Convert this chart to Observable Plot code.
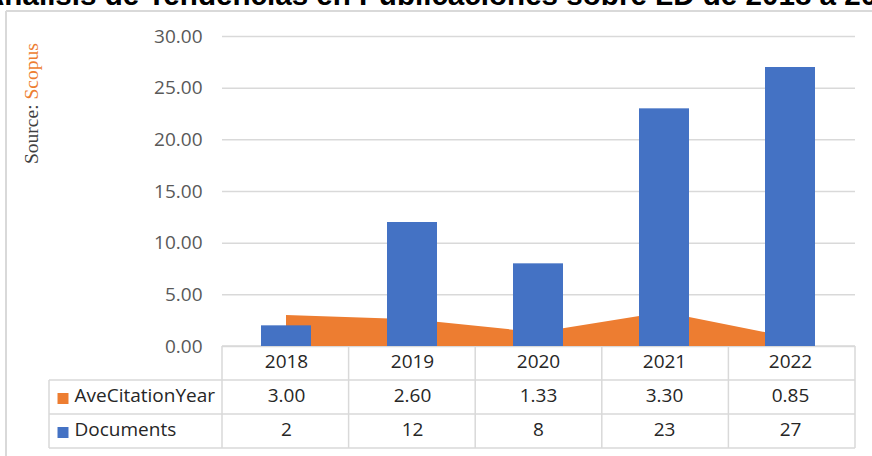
<!DOCTYPE html>
<html>
<head>
<meta charset="utf-8">
<script src="https://cdn.jsdelivr.net/npm/d3@7"></script>
<script src="https://cdn.jsdelivr.net/npm/@observablehq/plot@0.6"></script>
<style>
  html, body { margin: 0; padding: 0; background: #ffffff; }
  #wrap { position: relative; width: 872px; height: 456px; overflow: hidden; background: #ffffff; }
  #chart { position: absolute; left: 0; top: 0; }
  #title { position: absolute; left: -17px; top: -20px; white-space: nowrap;
           font-family: "Liberation Sans", Arial, sans-serif; font-weight: bold;
           font-size: 29.6px; line-height: 29.6px; color: #000000; z-index: 2; }
</style>
</head>
<body>
<div id="wrap">
  <div id="chart"></div>
  <div id="title">Análisis de Tendencias en Publicaciones sobre LD de 2018 a 2022</div>
</div>
<script>
const years = ["2018", "2019", "2020", "2021", "2022"];
const aveCitationYear = [3.00, 2.60, 1.33, 3.30, 0.85];
const documents = [2, 12, 8, 23, 27];
const yTicks = [0, 5, 10, 15, 20, 25, 30];
const seriesNames = ["AveCitationYear", "Documents"];
const seriesColors = ["#ED7D31", "#4472C4"];
const sourceLabel = "Source: ";
const sourceName = "Scopus";

const data = years.map((year, i) => ({year, ave: aveCitationYear[i], docs: documents[i]}));

const gridColor = "#d9d9d9";
const textColor = "#262626";
const rowH = 34;
const textShift = 4;

const chart = Plot.plot({
  width: 872,
  height: 456,
  marginTop: 36,
  marginBottom: 110,
  marginLeft: 222,
  marginRight: 17,
  style: {fontFamily: "'Open Sans', sans-serif", fontSize: "19px", color: "#595959", background: "transparent", overflow: "visible"},
  x: {type: "band", domain: years, paddingInner: 0.6, paddingOuter: 0.3, axis: null},
  y: {domain: [0, 30], ticks: yTicks, tickFormat: d => d.toFixed(2), tickSize: 0, tickPadding: 20, label: null},
  marks: [
    Plot.ruleY(yTicks, {stroke: gridColor, strokeWidth: 1.5}),
    Plot.areaY(data, {x: "year", y: "ave", fill: seriesColors[0]}),
    Plot.barY(data, {x: "year", y: "docs", fill: seriesColors[1]}),
    Plot.text(data, {x: "year", text: "year", frameAnchor: "bottom", dy: rowH / 2 + textShift, fill: textColor}),
    Plot.text(data, {x: "year", text: d => d.ave.toFixed(2), frameAnchor: "bottom", dy: rowH * 1.5 + textShift, fill: textColor}),
    Plot.text(data, {x: "year", text: d => String(d.docs), frameAnchor: "bottom", dy: rowH * 2.5 + textShift, fill: textColor}),
    Plot.text([seriesNames[0]], {text: d => d, frameAnchor: "bottom-left", textAnchor: "start", dx: -148, dy: rowH * 1.5 + textShift, fill: textColor}),
    Plot.text([seriesNames[1]], {text: d => d, frameAnchor: "bottom-left", textAnchor: "start", dx: -148, dy: rowH * 2.5 + textShift, fill: textColor}),
    Plot.dot([seriesNames[0]], {frameAnchor: "bottom-left", symbol: "square", r: 6.2, fill: seriesColors[0], stroke: null, dx: -159.5, dy: rowH * 1.5 + 1}),
    Plot.dot([seriesNames[1]], {frameAnchor: "bottom-left", symbol: "square", r: 6.2, fill: seriesColors[1], stroke: null, dx: -159.5, dy: rowH * 2.5 + 1})
  ]
});

document.getElementById("chart").appendChild(chart);

// table grid and chart frame, positioned from the plot's own scales
const xs = chart.scale("x");
const ys = chart.scale("y");
const [r0, r1] = xs.range;
const step = (r1 - r0) / years.length;
const y0 = ys.apply(0);
const svg = d3.select(chart);
const g = svg.insert("g", ":first-child").attr("stroke", gridColor).attr("stroke-width", 1.5).attr("fill", "none");
const labelLeft = r0 - 173;
[[r0, y0], [labelLeft, y0 + rowH], [labelLeft, y0 + 2 * rowH], [labelLeft, y0 + 3 * rowH]].forEach(([xa, yy]) => {
  g.append("line").attr("x1", xa).attr("x2", r1).attr("y1", yy).attr("y2", yy);
});
for (let i = 0; i <= years.length; i++) {
  const xx = r0 + i * step;
  g.append("line").attr("x1", xx).attr("x2", xx).attr("y1", y0).attr("y2", y0 + 3 * rowH);
}
g.append("line").attr("x1", labelLeft).attr("x2", labelLeft).attr("y1", y0 + rowH).attr("y2", y0 + 3 * rowH);
const fg = svg.insert("g", ":first-child").attr("stroke", gridColor).attr("stroke-width", 2).attr("fill", "none");
fg.append("line").attr("x1", 6).attr("x2", 6).attr("y1", 11).attr("y2", 470);
fg.append("line").attr("x1", 6).attr("x2", 880).attr("y1", 11).attr("y2", 11);

// rotated source note
const src = svg.append("text")
  .attr("transform", "translate(38,164) rotate(-90)")
  .attr("font-family", "'Liberation Serif', 'DejaVu Serif', serif")
  .attr("font-size", 19.5)
  .attr("text-anchor", "start");
src.append("tspan").attr("fill", "#404040").text(sourceLabel);
src.append("tspan").attr("fill", seriesColors[0]).text(sourceName);
</script>
</body>
</html>
